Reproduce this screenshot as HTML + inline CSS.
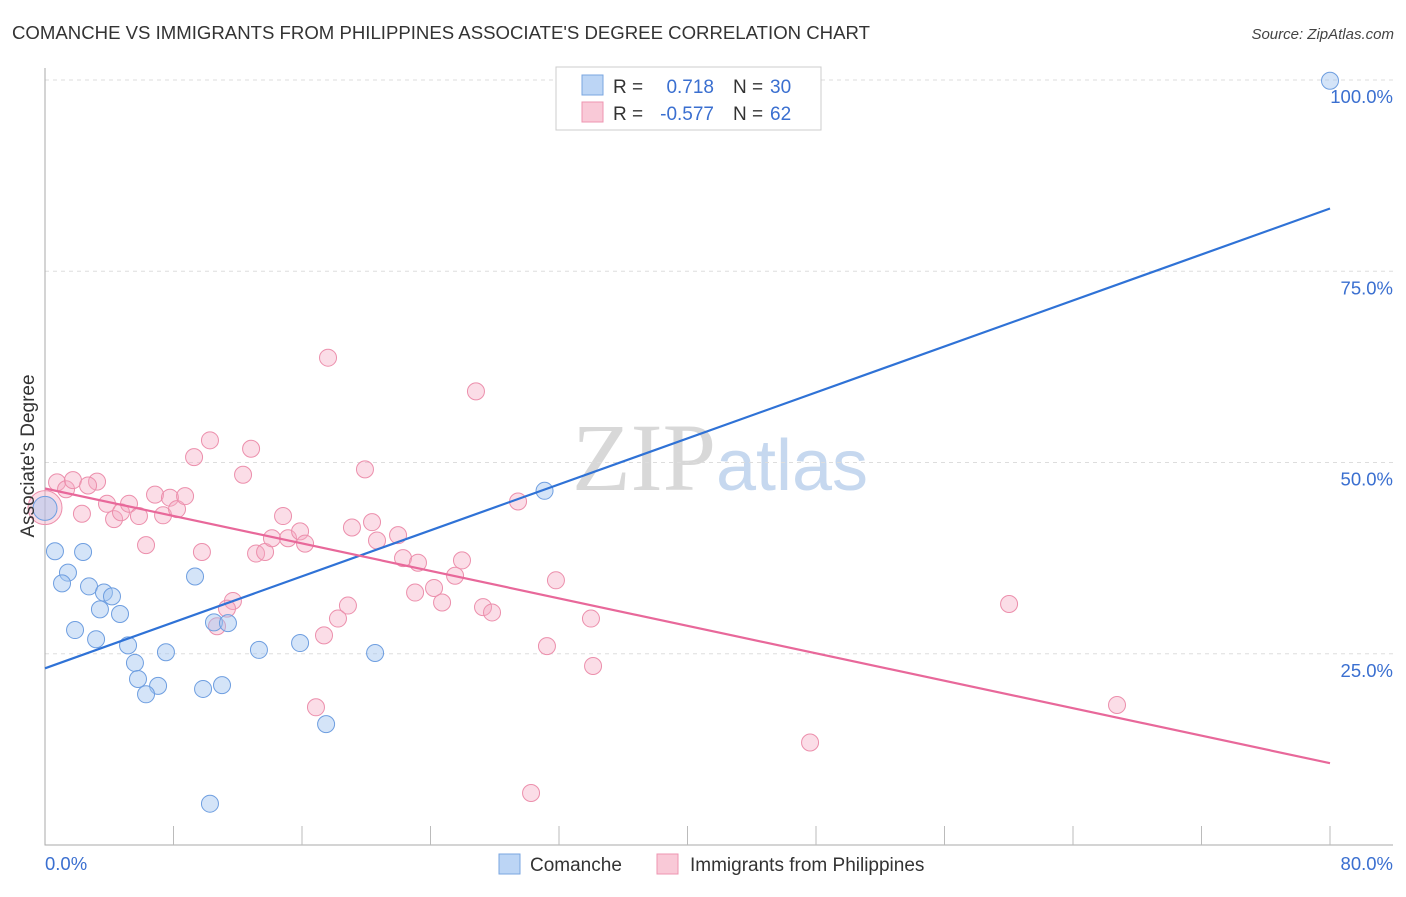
<!DOCTYPE html>
<html><head><meta charset="utf-8"><style>
body{margin:0;background:#fff;font-family:"Liberation Sans",sans-serif;}
svg text{font-family:"Liberation Sans",sans-serif;}
</style></head><body>
<svg id="chart" width="1406" height="892" xmlns="http://www.w3.org/2000/svg">
<text x="12" y="39" font-size="18.6" fill="#333">COMANCHE VS IMMIGRANTS FROM PHILIPPINES ASSOCIATE'S DEGREE CORRELATION CHART</text>
<text x="1394" y="39" font-size="15" fill="#444" text-anchor="end" font-style="italic">Source: ZipAtlas.com</text>
<text x="720" y="490" font-size="96" text-anchor="middle"><tspan font-family="Liberation Serif" fill="#d8d8d8">ZIP</tspan><tspan fill="#c6d8ef" font-size="72">atlas</tspan></text>
<g id="grid"></g>
<g id="axes"></g>
<g id="pts"></g>
<g id="lines"></g>
<text transform="translate(34,456) rotate(-90)" font-size="19" fill="#333" text-anchor="middle">Associate's Degree</text>
<g>
<rect x="556" y="67" width="265" height="63" fill="#fff" stroke="#ccc"/>
<rect x="582" y="75" width="21" height="20" fill="#bcd5f5" stroke="#7aa6e0"/>
<text x="613" y="93" font-size="19" fill="#333">R =</text>
<text x="714" y="93" font-size="19" fill="#3a6fd0" text-anchor="end">0.718</text>
<text x="733" y="93" font-size="19" fill="#333">N =</text>
<text x="770" y="93" font-size="19" fill="#3a6fd0">30</text>
<rect x="582" y="102" width="21" height="20" fill="#f9c9d7" stroke="#ee95b0"/>
<text x="613" y="120" font-size="19" fill="#333">R =</text>
<text x="714" y="120" font-size="19" fill="#3a6fd0" text-anchor="end">-0.577</text>
<text x="733" y="120" font-size="19" fill="#333">N =</text>
<text x="770" y="120" font-size="19" fill="#3a6fd0">62</text>
</g>
<g>
<rect x="499" y="854" width="21" height="20" fill="#bcd5f5" stroke="#7aa6e0"/>
<text x="530" y="871" font-size="19" fill="#333">Comanche</text>
<rect x="657" y="854" width="21" height="20" fill="#f9c9d7" stroke="#ee95b0"/>
<text x="690" y="871" font-size="19" fill="#333">Immigrants from Philippines</text>
</g>
</svg>
<script>
const blueX=[80,31.1,0.62,2.37,1.43,1.06,2.74,3.67,4.17,3.42,4.67,1.87,3.18,5.17,9.34,10.52,11.39,7.53,13.32,15.88,20.55,5.6,5.79,7.04,6.29,9.84,11.02,17.5,10.27,0];
const blueY=[99.9,46.3,38.4,38.3,35.6,34.2,33.8,33.0,32.5,30.8,30.2,28.1,26.9,26.1,35.1,29.1,29.0,25.2,25.5,26.4,25.1,23.8,21.7,20.8,19.7,20.4,20.9,15.8,5.4,44.0];
const pinkX=[0,0.75,1.31,1.74,3.24,2.68,2.3,3.86,4.3,4.73,5.23,5.85,6.29,6.85,7.35,7.78,8.22,8.72,9.28,9.77,10.27,12.33,12.83,13.14,13.7,14.82,14.13,15.13,15.88,16.19,17.62,19.92,19.11,20.36,20.67,21.98,22.29,23.22,23.04,24.22,24.72,25.53,25.96,26.83,27.27,27.83,29.45,31.81,33.99,31.25,34.12,30.26,11.7,11.33,10.71,18.86,18.24,17.37,16.87,60.02,66.74,47.63];
const pinkY=[44.1,47.4,46.5,47.7,47.5,47.0,43.3,44.6,42.6,43.5,44.6,43.0,39.2,45.8,43.1,45.4,43.9,45.6,50.7,38.3,52.9,48.4,51.8,38.1,38.3,43.0,40.1,40.1,41.0,39.4,63.7,49.1,41.5,42.2,39.8,40.5,37.5,36.9,33.0,33.6,31.7,35.2,37.2,59.3,31.1,30.4,44.9,34.6,29.6,26.0,23.4,6.8,31.9,30.9,28.6,31.3,29.6,27.4,18.0,31.5,18.3,13.4];
const blueTrend=[23.1,83.2];
const pinkTrend=[46.6,10.7];
const yTicks=[100,75,50,25];
const xTickCount=10;
const NS='http://www.w3.org/2000/svg';
const sx=v=>45+v/80*1285;
const sy=v=>845-v/100*765;
function mk(tag,parent,attrs){const e=document.createElementNS(NS,tag);for(const k in attrs)e.setAttribute(k,attrs[k]);parent.appendChild(e);return e;}
const grid=document.getElementById('grid'),axes=document.getElementById('axes'),pts=document.getElementById('pts'),lines=document.getElementById('lines');
yTicks.forEach(t=>{
 const l=mk('line',grid,{x1:45,x2:1393,y1:sy(t),y2:sy(t),stroke:'#ddd','stroke-dasharray':'4,4'});
 
 
 const tx=mk('text',grid,{x:1393,y:sy(t)+23,'font-size':18.5,fill:'#3a6fd0','text-anchor':'end'});
 tx.textContent=t.toFixed(1)+'%';
 
 
});
const ax=mk('path',axes,{d:'M45 68V845H1393',stroke:'#aaa',fill:'none'});


for(let i=1;i<=xTickCount;i++){
 const t=mk('line',axes,{x1:sx(i*8),x2:sx(i*8),y1:826,y2:845,stroke:'#bbb'});
 
 
}
const x0=mk('text',axes,{x:45,y:870,'font-size':18.5,fill:'#3a6fd0'});x0.textContent='0.0%';


const x1=mk('text',axes,{x:1393,y:870,'font-size':18.5,fill:'#3a6fd0','text-anchor':'end'});x1.textContent='80.0%';


pinkX.forEach((x,i)=>{
 const c=mk('circle',pts,{cx:sx(x),cy:sy(pinkY[i]),r:i===0?17:8.5,fill:'rgba(246,170,195,0.4)',stroke:'#ec8fac','stroke-width':1});
 
 
});
blueX.forEach((x,i)=>{
 const c=mk('circle',pts,{cx:sx(x),cy:sy(blueY[i]),r:i===blueX.length-1?12:8.5,fill:'rgba(160,195,240,0.45)',stroke:'#6e9ee0','stroke-width':1});
 
 
});
const bl=mk('line',lines,{x1:sx(0),y1:sy(blueTrend[0]),x2:sx(80),y2:sy(blueTrend[1]),stroke:'#2f72d6','stroke-width':2.2});


const pl=mk('line',lines,{x1:sx(0),y1:sy(pinkTrend[0]),x2:sx(80),y2:sy(pinkTrend[1]),stroke:'#e8689a','stroke-width':2.2});


</script>
</body></html>
